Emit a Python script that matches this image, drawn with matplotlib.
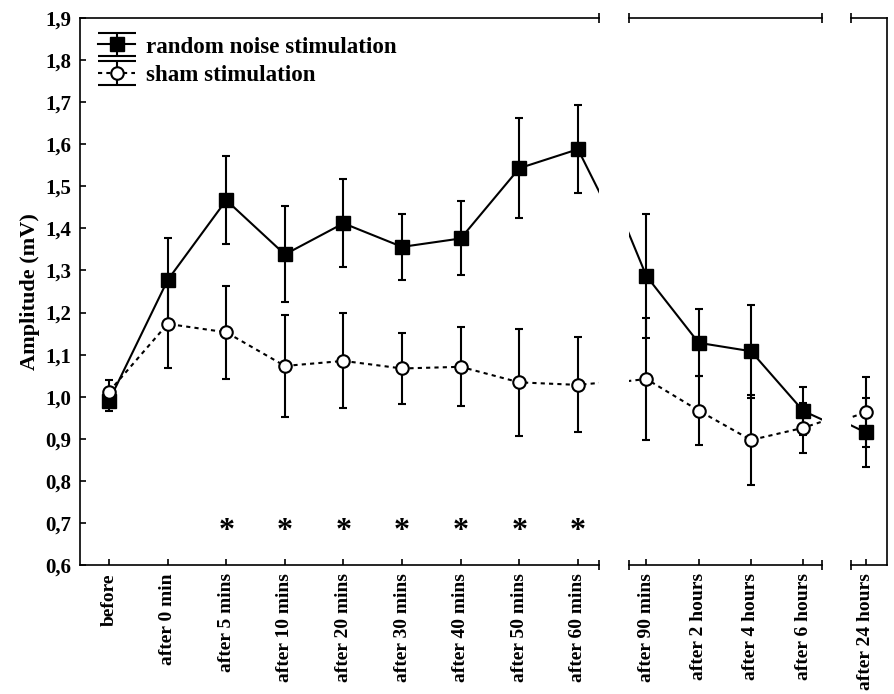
import numpy as np
import matplotlib.pyplot as plt

# --- data ---
labels = ["before", "after 0 min", "after 5 mins", "after 10 mins", "after 20 mins",
          "after 30 mins", "after 40 mins", "after 50 mins", "after 60 mins",
          "after 90 mins", "after 2 hours", "after 4 hours", "after 6 hours",
          "after 24 hours"]
noise = [0.990, 1.277, 1.467, 1.338, 1.412, 1.356, 1.376, 1.543, 1.588,
         1.287, 1.128, 1.108, 0.966, 0.915]
noise_err = [0.025, 0.099, 0.105, 0.114, 0.105, 0.079, 0.088, 0.119, 0.105,
             0.147, 0.080, 0.110, 0.058, 0.083]
sham = [1.012, 1.173, 1.153, 1.073, 1.085, 1.067, 1.071, 1.034, 1.028,
        1.042, 0.967, 0.897, 0.926, 0.963]
sham_err = [0.028, 0.105, 0.111, 0.121, 0.113, 0.085, 0.094, 0.128, 0.113,
            0.146, 0.082, 0.108, 0.060, 0.083]
star_idx = [2, 3, 4, 5, 6, 7, 8]
star_y = 0.68
yticks = [0.6, 0.7, 0.8, 0.9, 1.0, 1.1, 1.2, 1.3, 1.4, 1.5, 1.6, 1.7, 1.8, 1.9]

plt.rcParams['font.family'] = 'Liberation Serif'
plt.rcParams['font.weight'] = 'bold'

fig = plt.figure(figsize=(8.95, 6.94), dpi=100)
bot, hgt = 0.1859, 0.7882
ax1 = fig.add_axes([80 / 895, bot, 519.3 / 895, hgt])
ax2 = fig.add_axes([628.7 / 895, bot, 192.8 / 895, hgt])
ax3 = fig.add_axes([851 / 895, bot, 36.5 / 895, hgt])

# axes, own points, x limits, neighbour points (so lines run off across the breaks)
segs = [
    (ax1, list(range(0, 9)), (-0.495, 8.364), {9: 9.08}),
    (ax2, list(range(9, 13)), (-0.337, 3.348), {8: -1.0, 13: 3.9}),
    (ax3, [13], (-0.281, 0.417), {12: -0.85}),
]

for ax, idx, xl, nb in segs:
    pos = {i: k for k, i in enumerate(idx)}
    pos.update(nb)
    order = sorted(pos)
    xl_all = [pos[i] for i in order]
    xs = [pos[i] for i in idx]

    ax.plot(xl_all, [noise[i] for i in order], color='k', lw=1.5, zorder=2)
    ax.errorbar(xs, [noise[i] for i in idx], yerr=[noise_err[i] for i in idx],
                fmt='none', ecolor='k', elinewidth=1.5, capsize=3, capthick=1.5, zorder=2)
    ax.plot(xs, [noise[i] for i in idx], 's', color='k', ms=10, zorder=3)

    ax.plot(xl_all, [sham[i] for i in order], color='k', lw=1.5,
            linestyle=(0, (2, 2)), zorder=4)
    ax.errorbar(xs, [sham[i] for i in idx], yerr=[sham_err[i] for i in idx],
                fmt='none', ecolor='k', elinewidth=1.5, capsize=3, capthick=1.5, zorder=4)
    ax.plot(xs, [sham[i] for i in idx], 'o', mfc='white', mec='k', mew=1.5,
            ms=9, zorder=5)

    ax.set_xlim(*xl)
    ax.set_ylim(0.6, 1.9)
    ax.set_xticks(xs)
    ax.set_xticklabels([labels[i] for i in idx], rotation=90, fontsize=14,
                       fontweight='bold')
    ax.tick_params(direction='in', length=4, width=1.2, pad=6)
    for s in ax.spines.values():
        s.set_linewidth(1.2)

# spines and break caps
ax1.spines['right'].set_visible(False)
ax2.spines['left'].set_visible(False)
ax2.spines['right'].set_visible(False)
ax3.spines['left'].set_visible(False)
ax2.set_yticks([])
ax3.set_yticks([])


def brk(ax, x):
    for y in (0, 1):
        ax.plot([x], [y], transform=ax.transAxes, marker='|', ms=7, mew=1.2,
                color='k', clip_on=False)


brk(ax1, 1)
brk(ax2, 0)
brk(ax2, 1)
brk(ax3, 0)

ax1.set_yticks(yticks)
ax1.set_yticklabels([f"{v:.1f}".replace('.', ',') for v in yticks],
                    fontsize=15, fontweight='bold')
ax1.set_ylabel('Amplitude (mV)', fontsize=16, fontweight='bold', labelpad=4)

for i in star_idx:
    ax1.text(i, star_y, '*', ha='center', va='center', fontsize=23,
             fontweight='bold')

# legend handles with wide caps
h1 = ax1.errorbar([np.nan], [np.nan], yerr=[np.nan], fmt='s-', color='k', ms=10,
                  lw=1.5, elinewidth=1.5, capsize=14, capthick=1.5)
h2 = ax1.errorbar([np.nan], [np.nan], yerr=[np.nan], fmt='o', ls=(0, (2, 2)),
                  color='k', mfc='white', mec='k', mew=1.5, ms=9, lw=1.5,
                  elinewidth=1.5, capsize=14, capthick=1.5)
ax1.legend([h1, h2], ['random noise stimulation', 'sham stimulation'],
           loc='upper left', frameon=False, handlelength=1.6,
           handletextpad=0.45, labelspacing=0.32, borderaxespad=0.4,
           prop={'weight': 'bold', 'size': 16.6})

fig.savefig('out.png', dpi=100)
